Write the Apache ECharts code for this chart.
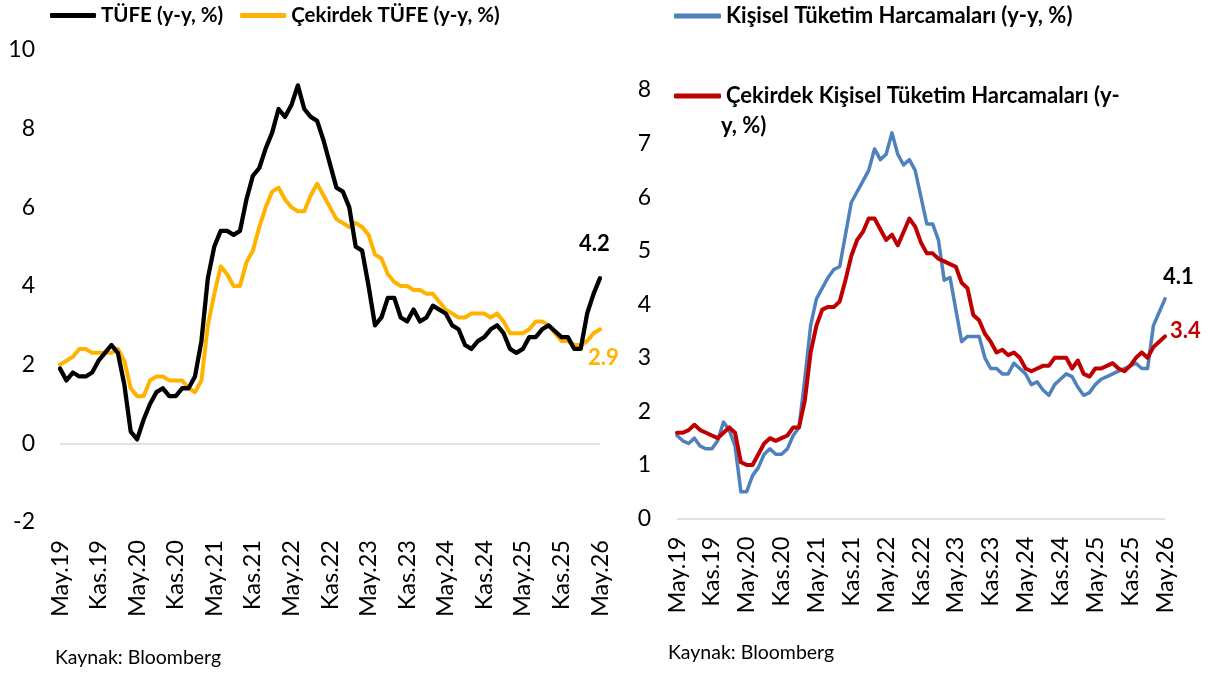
<!DOCTYPE html>
<html>
<head>
<meta charset="utf-8">
<script src="https://cdn.jsdelivr.net/npm/echarts@6/dist/echarts.min.js"></script>
<style>
  html, body { margin: 0; padding: 0; background: #fff; }
  #main { width: 1217px; height: 675px; }
</style>
</head>
<body>
<div id="main"></div>
<script>
// ay kisaltmalari (Tr)
var aylar = ['Oca', 'Şub', 'Mar', 'Nis', 'May', 'Haz', 'Tem', 'Ağu', 'Eyl', 'Eki', 'Kas', 'Ara'];
var categories = [];
for (var k = 0; k < 85; k++) {
  var m = (4 + k) % 12;
  var y = 19 + Math.floor((4 + k) / 12);
  categories.push(aylar[m] + '.' + y);
}

// ABD TÜFE (y-y, %)
var tufe = [
  1.9, 1.6, 1.8, 1.7, 1.7, 1.8, 2.1, 2.3, 2.5, 2.3,
  1.5, 0.3, 0.1, 0.6, 1.0, 1.3, 1.4, 1.2, 1.2, 1.4,
  1.4, 1.7, 2.6, 4.2, 5.0, 5.4, 5.4, 5.3, 5.4, 6.2,
  6.8, 7.0, 7.5, 7.9, 8.5, 8.3, 8.6, 9.1, 8.5, 8.3,
  8.2, 7.7, 7.1, 6.5, 6.4, 6.0, 5.0, 4.9, 4.0, 3.0,
  3.2, 3.7, 3.7, 3.2, 3.1, 3.4, 3.1, 3.2, 3.5, 3.4,
  3.3, 3.0, 2.9, 2.5, 2.4, 2.6, 2.7, 2.9, 3.0, 2.8,
  2.4, 2.3, 2.4, 2.7, 2.7, 2.9, 3.0, 2.85, 2.7, 2.7,
  2.4, 2.4, 3.3, 3.8, 4.2
];
// Çekirdek TÜFE (y-y, %)
var cekirdekTufe = [
  2.0, 2.1, 2.2, 2.4, 2.4, 2.3, 2.3, 2.3, 2.3, 2.4,
  2.1, 1.4, 1.2, 1.2, 1.6, 1.7, 1.7, 1.6, 1.6, 1.6,
  1.4, 1.3, 1.6, 3.0, 3.8, 4.5, 4.3, 4.0, 4.0, 4.6,
  4.9, 5.5, 6.0, 6.4, 6.5, 6.2, 6.0, 5.9, 5.9, 6.3,
  6.6, 6.3, 6.0, 5.7, 5.6, 5.5, 5.6, 5.5, 5.3, 4.8,
  4.7, 4.3, 4.1, 4.0, 4.0, 3.9, 3.9, 3.8, 3.8, 3.6,
  3.4, 3.3, 3.2, 3.2, 3.3, 3.3, 3.3, 3.2, 3.3, 3.1,
  2.8, 2.8, 2.8, 2.9, 3.1, 3.1, 3.0, 2.8, 2.6, 2.6,
  2.5, 2.5, 2.6, 2.8, 2.9
];
// Kişisel Tüketim Harcamaları (y-y, %)
var pce = [
  1.55, 1.45, 1.4, 1.5, 1.35, 1.3, 1.3, 1.45, 1.8, 1.65,
  1.35, 0.5, 0.5, 0.8, 0.95, 1.2, 1.3, 1.2, 1.2, 1.3,
  1.55, 1.7, 2.6, 3.6, 4.1, 4.3, 4.5, 4.65, 4.7, 5.3,
  5.9, 6.1, 6.3, 6.5, 6.9, 6.7, 6.8, 7.2, 6.8, 6.6,
  6.7, 6.5, 6.0, 5.5, 5.5, 5.2, 4.45, 4.5, 3.9, 3.3,
  3.4, 3.4, 3.4, 3.0, 2.8, 2.8, 2.7, 2.7, 2.9, 2.8,
  2.7, 2.5, 2.55, 2.4, 2.3, 2.5, 2.6, 2.7, 2.65, 2.45,
  2.3, 2.35, 2.5, 2.6, 2.65, 2.7, 2.75, 2.8, 2.85, 2.9,
  2.8, 2.8, 3.6, 3.85, 4.1
];
// Çekirdek Kişisel Tüketim Harcamaları (y-y, %)
var cekirdekPce = [
  1.6, 1.6, 1.65, 1.75, 1.65, 1.6, 1.55, 1.5, 1.6, 1.7,
  1.6, 1.05, 1.0, 1.0, 1.2, 1.4, 1.5, 1.45, 1.5, 1.55,
  1.7, 1.7, 2.2, 3.1, 3.6, 3.9, 3.95, 3.95, 4.05, 4.45,
  4.9, 5.2, 5.35, 5.6, 5.6, 5.4, 5.2, 5.3, 5.1, 5.35,
  5.6, 5.45, 5.15, 4.95, 4.95, 4.85, 4.8, 4.75, 4.7, 4.4,
  4.3, 3.8, 3.7, 3.45, 3.3, 3.1, 3.15, 3.05, 3.1, 3.0,
  2.8, 2.75, 2.8, 2.85, 2.85, 3.0, 3.0, 3.0, 2.8, 2.95,
  2.7, 2.65, 2.8, 2.8, 2.85, 2.9, 2.8, 2.75, 2.85, 3.0,
  3.1, 3.0, 3.2, 3.3, 3.4
];

var FONT = 'Lato, "Open Sans", sans-serif';

var myChart = echarts.init(document.getElementById('main'), null, { renderer: 'canvas' });

function xEksen(idx, margin) {
  return {
    type: 'category',
    gridIndex: idx,
    data: categories,
    boundaryGap: false,
    axisLine: { show: false },
    axisTick: { show: false },
    splitLine: { show: false },
    axisLabel: {
      interval: 5,
      rotate: 90,
      margin: margin,
      color: '#000',
      fontFamily: FONT,
      fontSize: 23.5
    }
  };
}

function yEksen(idx, min, max, margin) {
  return {
    type: 'value',
    gridIndex: idx,
    min: min,
    max: max,
    interval: idx === 0 ? 2 : 1,
    axisLine: { show: false },
    axisTick: { show: false },
    splitLine: { show: false },
    axisLabel: {
      margin: margin,
      color: '#000',
      fontFamily: FONT,
      fontSize: 23
    }
  };
}

var sifirCizgisi = {
  silent: true,
  symbol: ['none', 'none'],
  label: { show: false },
  lineStyle: { color: '#d9d9d9', width: 1.5, type: 'solid' },
  data: [{ yAxis: 0 }]
};

function seri(name, data, idx, color, width, endLabel, extra) {
  var s = {
    name: name,
    type: 'line',
    xAxisIndex: idx,
    yAxisIndex: idx,
    data: data,
    showSymbol: false,
    symbol: 'none',
    smooth: false,
    lineStyle: { color: color, width: width, cap: 'round', join: 'round' },
    itemStyle: { color: color },
    endLabel: endLabel,
    z: 3
  };
  if (extra) s.markLine = extra;
  return s;
}

function sonEtiket(color, offset) {
  return {
    show: true, distance: 0, offset: offset,
    formatter: function (p) { return p.value.toFixed(1); },
    color: color, fontFamily: FONT, fontWeight: 'bold', fontSize: 22
  };
}

var option = {
  backgroundColor: '#fff',
  animation: false,
  textStyle: { fontFamily: FONT },
  legend: [
    {
      data: ['TÜFE (y-y, %)', 'Çekirdek TÜFE (y-y, %)'],
      left: 45,
      top: 0,
      orient: 'horizontal',
      icon: 'roundRect',
      itemWidth: 46,
      itemHeight: 5,
      itemGap: 17,
      textStyle: { color: '#000', fontFamily: FONT, fontWeight: 'bold', fontSize: 20.5 }
    },
    {
      data: ['Kişisel Tüketim Harcamaları (y-y, %)', 'Çekirdek Kişisel Tüketim Harcamaları (y-y, %)'],
      left: 669,
      top: 0,
      orient: 'vertical',
      icon: 'roundRect',
      itemWidth: 47,
      itemHeight: 5,
      itemGap: 58,
      formatter: function (name) {
        return name === 'Çekirdek Kişisel Tüketim Harcamaları (y-y, %)'
          ? 'Çekirdek Kişisel Tüketim Harcamaları (y-' : name;
      },
      textStyle: { color: '#000', fontFamily: FONT, fontWeight: 'bold', fontSize: 22 }
    }
  ],
  grid: [
    { left: 60, top: 50, width: 540, height: 472 },
    { left: 677, top: 90, width: 488, height: 428.5 }
  ],
  xAxis: [xEksen(0, 18), xEksen(1, 18)],
  yAxis: [yEksen(0, -2, 10, 25), yEksen(1, 0, 8, 26)],
  graphic: [
    {
      type: 'text', left: 721, top: 115,
      style: { text: 'y, %)', fill: '#000', font: 'bold 22px ' + FONT }
    },
    {
      type: 'text', left: 55, top: 648,
      style: { text: 'Kaynak: Bloomberg', fill: '#000', font: '19.5px ' + FONT }
    },
    {
      type: 'text', left: 668, top: 643,
      style: { text: 'Kaynak: Bloomberg', fill: '#000', font: '19.5px ' + FONT }
    }
  ],
  series: [
    seri('Çekirdek TÜFE (y-y, %)', cekirdekTufe, 0, '#FFB300', 4, sonEtiket('#FFB300', [-12, 29]), sifirCizgisi),
    seri('TÜFE (y-y, %)', tufe, 0, '#000000', 4.3, sonEtiket('#000', [-21, -34])),
    seri('Kişisel Tüketim Harcamaları (y-y, %)', pce, 1, '#4F81BD', 3.5, sonEtiket('#000', [-2, -22]), sifirCizgisi),
    seri('Çekirdek Kişisel Tüketim Harcamaları (y-y, %)', cekirdekPce, 1, '#C00000', 4, sonEtiket('#C00000', [5, -5]))
  ]
};

myChart.setOption(option);
</script>
</body>
</html>
